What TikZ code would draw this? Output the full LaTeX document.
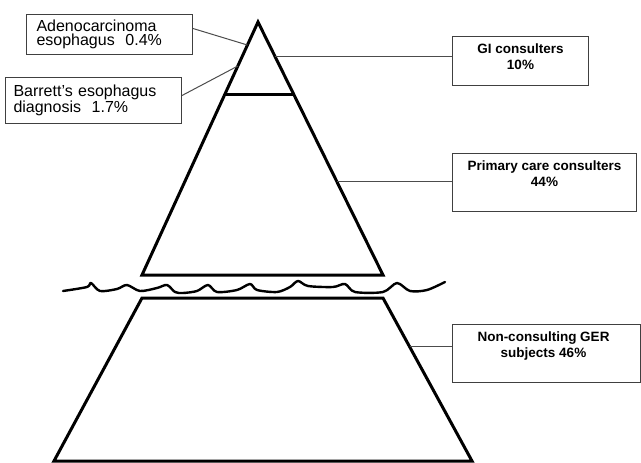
\documentclass[tikz,border=0pt]{standalone}
\usepackage{fontspec}
\setmainfont{Liberation Sans}
\usetikzlibrary{calc}
\begin{document}
\begin{tikzpicture}[x=1pt,y=-1pt,
  thickline/.style={line width=3pt,line join=miter,line cap=butt},
  conn/.style={draw=black!70,line width=1pt},
  leftbox/.style={draw=black!75,line width=1pt,rectangle,inner ysep=0pt,align=left,
    font=\fontsize{16}{14.5}\selectfont},
  rightbox/.style={draw=black!75,line width=1pt,rectangle,inner sep=0pt},
  rlabel/.style={font=\fontsize{13.5}{16}\selectfont\bfseries,align=center,inner sep=0pt}]
\useasboundingbox (0,0) rectangle (641,463);
% upper triangle
\coordinate (apex) at (258,22);
\coordinate (bl) at (142,275);
\coordinate (br) at (383,275);
\draw[thickline] (apex) -- (br) -- (bl) -- cycle;
\coordinate (il) at ($(apex)!0.2885!(bl)$);
\coordinate (ir) at ($(apex)!0.2885!(br)$);
\draw[thickline] (il) -- (ir);
% lower trapezoid
\coordinate (tl) at (142,298);
\coordinate (tr) at (383,298);
\coordinate (lr) at (472,461);
\coordinate (ll) at (54,461);
\draw[thickline] (tl) -- (tr) -- (lr) -- (ll) -- cycle;
% wavy break line
\draw[line width=2.4pt,line cap=round,line join=round] plot[smooth,tension=0.5] coordinates {
 (63,291) (87,287) (91,283) (100,291) (117,289) (127,285) (140,291) (157,288)
 (167,285) (175,292) (183,293) (197,291) (208,285) (217,292) (237,290) (250,284)
 (257,290) (277,292) (290,287) (298,281) (308,286) (333,287) (345,284) (355,292)
 (383,292) (397,283) (410,291) (427,290) (445,282)};
% left boxes
\node[leftbox,anchor=north west,text width=146pt,inner xsep=10pt,minimum height=40pt] (ade) at (26,14)
  {Adenocarcinoma\\esophagus\ \ 0.4\%};
\node[leftbox,anchor=north west,text width=160pt,inner xsep=8pt,minimum height=46pt] (bar) at (5,77)
  {Barrett's esophagus\\diagnosis\ \ 1.7\%};
\coordinate (pade) at ($(apex)!0.091!(bl)$);
\coordinate (pbar) at ($(apex)!0.174!(bl)$);
\draw[conn] ([yshift=6pt]ade.east) -- (pade);
\draw[conn] ([yshift=5pt]bar.east) -- (pbar);
% right boxes
\node[rightbox,anchor=north west,minimum width=136pt,minimum height=49pt] (gi) at (452,36) {};
\node[rlabel,anchor=north] (gilab) at ([yshift=-8pt]gi.north) {GI consulters\\10\%};
\node[rightbox,anchor=north west,minimum width=184pt,minimum height=58pt] (pc) at (452,153) {};
\node[rlabel,anchor=north] (pclab) at ([yshift=-8pt]pc.north) {Primary care consulters\\44\%};
\node[rightbox,anchor=north west,minimum width=188pt,minimum height=58pt] (nc) at (452,324) {};
\node[rlabel,anchor=north] (nclab) at ([xshift=-3pt,yshift=-8pt]nc.north) {Non-consulting GER\\subjects 46\%};
% connectors
\coordinate (pgi) at ($(apex)!0.1344!(br)$);
\coordinate (ppc) at ($(apex)!0.6324!(br)$);
\coordinate (pnc) at ($(tr)!0.3!(lr)$);
\draw[conn] (pgi) -- (pgi -| gi.west);
\draw[conn] (ppc) -- (ppc -| pc.west);
\draw[conn] (pnc) -- (pnc -| nc.west);
\end{tikzpicture}
\end{document}
